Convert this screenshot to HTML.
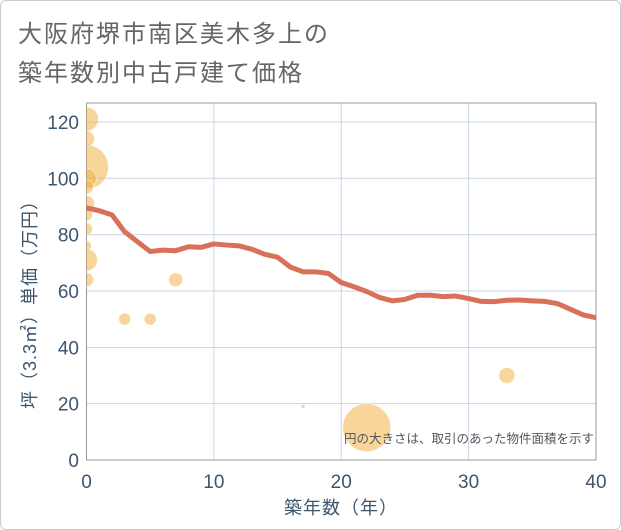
<!DOCTYPE html>
<html><head><meta charset="utf-8"><style>
body{margin:0;background:#fff;}
#wrap{position:relative;width:619px;height:528px;border:1px solid #ccc;border-radius:6px;overflow:hidden;font-family:"Liberation Sans","Noto Sans CJK JP",sans-serif;}
.t{position:absolute;left:17px;font-size:24px;color:#666;letter-spacing:2px;}
</style></head><body>
<div id="wrap">
<div class="t" style="top:13px">大阪府堺市南区美木多上の</div>
<div class="t" style="top:52px">築年数別中古戸建て価格</div>
<svg id="c" width="621" height="530" style="position:absolute;left:-1px;top:-1px"><defs><clipPath id="pc"><rect x="86.5" y="103" width="509.5" height="357"/></clipPath></defs></svg>
</div>
<script>
const lineAges=[0,1,2,3,4,5,6,7,8,9,10,11,12,13,14,15,16,17,18,19,20,21,22,23,24,25,26,27,28,29,30,31,32,33,34,35,36,37,38,39,40];
const lineVals=[89.5,88.5,87,81,77.5,74,74.5,74.3,75.7,75.5,76.7,76.3,76,74.8,73,72,68.5,66.8,66.8,66.2,63,61.5,59.8,57.7,56.5,57,58.5,58.5,58,58.2,57.3,56.3,56.2,56.7,56.8,56.5,56.3,55.5,53.5,51.5,50.5];
const bubAges=[0,0,0,0,0,0,0,0,0,0,0,3,5,7,10,17,22,33];
const bubVals=[121,104,114,100,97,91,87,82,76,71,64,50,50,64,45,19,11.5,30];
const bubSizes=[12,22,8,10,7,8,6,6,5,11,7,6,6,7,1,2,24,8];
const xTicks=[0,10,20,30,40];
const yTicks=[0,20,40,60,80,100,120];
const X0=86.5,X1=596,Y0=460,Y1=103;
const sx=v=>X0+(X1-X0)*v/40;
const sy=v=>Y0-v*2.817;
const svg=document.getElementById('c');const NS='http://www.w3.org/2000/svg';
function mk(tag,attrs,parent){const e=document.createElementNS(NS,tag);for(const k in attrs)e.setAttribute(k,attrs[k]);(parent||svg).appendChild(e);return e;}
for(const t of xTicks){const g=mk('line',{x1:sx(t),x2:sx(t),y1:Y1,y2:Y0,stroke:'#c8d6e5','stroke-width':1});


const l=mk('text',{x:sx(t),y:488,'text-anchor':'middle','font-size':19,fill:'#3d566e'});l.textContent=t;

}
for(const t of yTicks){const g=mk('line',{x1:X0,x2:X1,y1:sy(t),y2:sy(t),stroke:'#c8d6e5','stroke-width':1});


const l=mk('text',{x:79,y:sy(t)+7,'text-anchor':'end','font-size':19,fill:'#3d566e'});l.textContent=t;

}
const fr=mk('rect',{x:X0,y:Y1,width:X1-X0,height:Y0-Y1,fill:'none',stroke:'#999','stroke-width':1});


const gb=mk('g',{'clip-path':'url(#pc)'});


bubAges.forEach((a,i)=>{const c=mk('circle',{cx:sx(a),cy:sy(bubVals[i]),r:bubSizes[i],fill:'#f1b248','fill-opacity':0.55,stroke:'#fff','stroke-opacity':0.5},gb);

});
const p=mk('polyline',{points:lineAges.map((a,i)=>sx(a)+','+sy(lineVals[i])).join(' '),fill:'none',stroke:'#d9705a','stroke-width':5,'stroke-linejoin':'round'},gb);


const n=mk('text',{x:594,y:443,'text-anchor':'end','font-size':12.5,fill:'#555'});n.textContent='円の大きさは、取引のあった物件面積を示す';


const xt=mk('text',{x:341,y:514,'text-anchor':'middle','font-size':18,fill:'#3d566e','letter-spacing':1});xt.textContent='築年数（年）';


const yt=mk('text',{x:0,y:0,'text-anchor':'middle','font-size':18,fill:'#3d566e','letter-spacing':1,transform:'translate(36,300) rotate(-90)'});yt.textContent='坪（3.3㎡）単価（万円）';


</script>
</body></html>
